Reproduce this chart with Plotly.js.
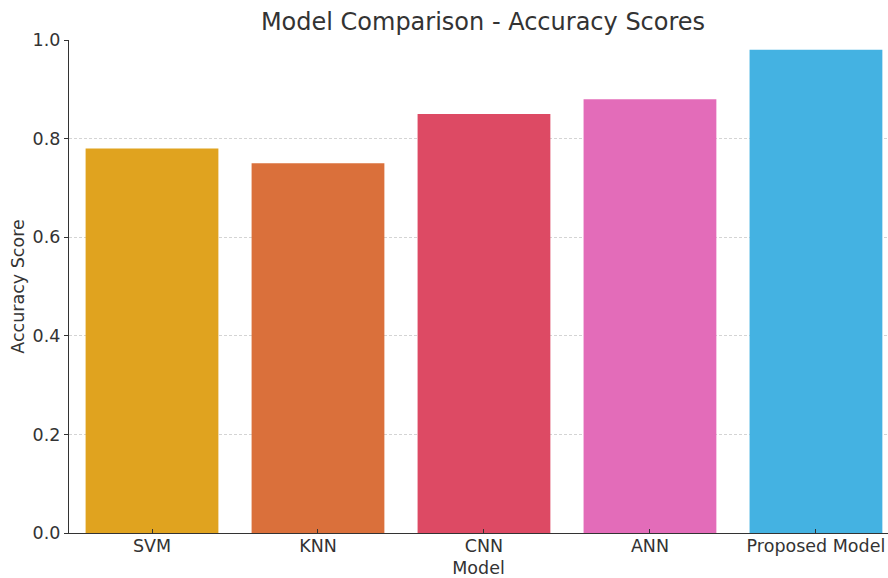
<!DOCTYPE html>
<html><head><meta charset="utf-8">
<script src="https://cdn.plot.ly/plotly-3.0.1.min.js"></script>
<style>html,body{margin:0;padding:0;background:#fff}#chart{width:888px;height:578px}</style>
</head><body><div id="chart"></div>
<script>
const models = ["SVM", "KNN", "CNN", "ANN", "Proposed Model"];
const accuracy = [0.78, 0.75, 0.85, 0.88, 0.98];
const barColors = ["#e0a31f", "#da703b", "#dd4a64", "#e36cb9", "#44b2e2"];
const yTicks = [0, 0.2, 0.4, 0.6, 0.8, 1.0];
const yTickText = ["0.0", "0.2", "0.4", "0.6", "0.8", "1.0"];

const font = {family: "DejaVu Sans, sans-serif", color: "#333", size: 18};
Plotly.newPlot("chart", [{
  type: "bar", x: models, y: accuracy,
  marker: {color: barColors, line: {width: 0}},
  hoverinfo: "x+y"
}], {
  width: 888, height: 578,
  margin: {l: 69, r: 0, t: 40, b: 45, pad: 0},
  paper_bgcolor: "#fff", plot_bgcolor: "#fff",
  font: font,
  bargap: 0.2,
  title: {text: "Model Comparison - Accuracy Scores", font: {size: 24, color: "#333", family: font.family},
          x: 0.5055, xref: "paper", xanchor: "center", y: 1 - 22/578, yref: "container", yanchor: "middle"},
  xaxis: {
    range: [-0.5, 4.434], type: "category",
    showline: true, linecolor: "#333", linewidth: 1.3,
    ticks: "inside", ticklen: 4, tickcolor: "#333", tickwidth: 1,
    ticklabelstandoff: -3,
    showgrid: false, zeroline: false,
    tickfont: {size: 17.5, color: "#333"},
    title: {text: "Model", font: {size: 17.5, color: "#333"}, standoff: 6}
  },
  yaxis: {
    range: [0, 1.0], tickvals: yTicks, ticktext: yTickText,
    showline: true, linecolor: "#333", linewidth: 1.3,
    ticks: "outside", ticklen: 4, tickcolor: "#333", tickwidth: 1,
    showgrid: true, gridcolor: "#d4d4d4", griddash: "3px,2px", gridwidth: 0.8,
    zeroline: false,
    tickfont: {size: 17.5, color: "#333"},
    title: {text: "Accuracy Score", font: {size: 17.5, color: "#333"}, standoff: 3}
  },
  showlegend: false
}, {displayModeBar: false});
</script></body></html>
